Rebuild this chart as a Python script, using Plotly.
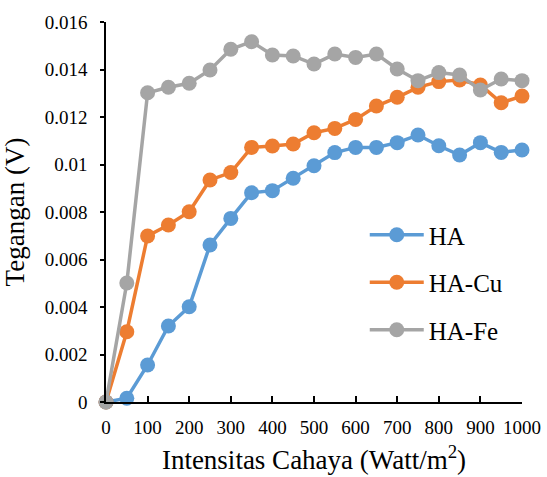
import plotly.graph_objects as go

x_vals = [0, 50, 100, 150, 200, 250, 300, 350, 400, 450, 500, 550, 600, 650, 700, 750, 800, 850, 900, 950, 1000]
ha = [0, 0.00016, 0.00156, 0.0032, 0.00401, 0.00661, 0.00773, 0.00881, 0.0089, 0.00942, 0.00995, 0.0105, 0.01072, 0.01072, 0.01092, 0.01124, 0.01079, 0.0104, 0.01092, 0.01051, 0.01061]
ha_cu = [0, 0.00296, 0.00699, 0.00745, 0.00801, 0.00935, 0.00966, 0.01072, 0.01078, 0.01086, 0.01134, 0.01152, 0.0119, 0.01246, 0.01283, 0.01325, 0.01349, 0.01356, 0.01335, 0.0126, 0.01288]
ha_fe = [0, 0.00501, 0.01302, 0.01325, 0.01342, 0.01398, 0.01485, 0.01517, 0.01461, 0.01457, 0.01423, 0.01465, 0.01451, 0.01465, 0.01402, 0.01353, 0.01387, 0.01377, 0.01314, 0.0136, 0.01353]

series_names = ["HA", "HA-Cu", "HA-Fe"]
colors = ["#5B9BD5", "#ED7D31", "#A5A5A5"]
y_tickvals = [0, 0.002, 0.004, 0.006, 0.008, 0.01, 0.012, 0.014, 0.016]
y_ticktext = ["0", "0.002", "0.004", "0.006", "0.008", "0.01", "0.012", "0.014", "0.016"]
x_tickvals = [0, 100, 200, 300, 400, 500, 600, 700, 800, 900, 1000]

font_family = "Liberation Serif"

fig = go.Figure()
for name, ys, c in zip(series_names, [ha, ha_cu, ha_fe], colors):
    fig.add_trace(go.Scatter(
        x=x_vals, y=ys, name=name, mode="lines+markers",
        legendgroup=name,
        line=dict(color=c, width=3.5),
        marker=dict(color=c, size=15),
        cliponaxis=False,
    ))

fig.update_layout(
    width=547, height=477,
    margin=dict(l=106, r=25, t=22, b=75),
    paper_bgcolor="white", plot_bgcolor="white",
    font=dict(family=font_family, color="black", size=19),
    showlegend=True,
    legend=dict(
        x=0.622, y=0.5, xanchor="left", yanchor="top",
        font=dict(family=font_family, size=25, color="black"),
        bgcolor="rgba(0,0,0,0)",
        tracegroupgap=12,
        itemwidth=54,
    ),
    xaxis=dict(
        range=[0, 1000], tickvals=x_tickvals, ticktext=[str(v) for v in x_tickvals],
        showgrid=False, zeroline=False, automargin=False,
        showline=True, linecolor="black", linewidth=1.5,
        ticks="inside", ticklen=6, tickwidth=1.5, tickcolor="black",
        ticklabelstandoff=7,
        tickfont=dict(family=font_family, size=19),
        title=dict(text="Intensitas Cahaya (Watt/m<sup>2</sup>)", font=dict(family=font_family, size=27), standoff=14),
    ),
    yaxis=dict(
        range=[0, 0.016], tickvals=y_tickvals, ticktext=y_ticktext,
        showgrid=False, zeroline=False, automargin=False,
        showline=True, linecolor="black", linewidth=1.5,
        ticks="outside", ticklen=4, tickwidth=1.5, tickcolor="black",
        ticklabelstandoff=9,
        tickfont=dict(family=font_family, size=19),
        title=dict(text="Tegangan (V)", font=dict(family=font_family, size=27), standoff=12),
    ),
)

fig.write_html("out.html")
